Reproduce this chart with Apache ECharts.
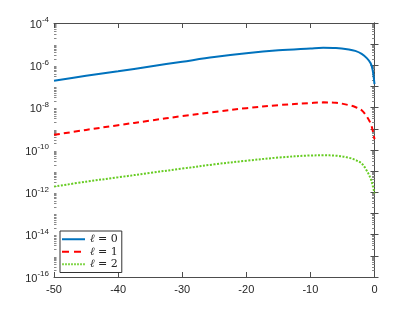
<!DOCTYPE html>
<html><head><meta charset="utf-8">
<script src="https://cdn.jsdelivr.net/npm/echarts@6/dist/echarts.min.js"></script>
<style>html,body{margin:0;padding:0;background:#fff}#c{width:415px;height:312px}</style>
</head><body><div id="c"></div>
<script>
const xs = [-50, -45, -40, -35, -30, -25, -20, -15, -10, -8, -6, -4, -3, -2, -1.2, -0.6, -0.3, 0];
const l0 = [1.86e-7, 3.2e-7, 5.2e-7, 8.9e-7, 1.48e-6, 2.45e-6, 3.7e-6, 5.1e-6, 6.3e-6, 6.8e-6, 6.6e-6, 5.6e-6, 4.8e-6, 3.5e-6, 2.2e-6, 1.26e-6, 6.3e-7, 1.3e-7];
const l1 = [5.2e-10, 8.9e-10, 1.48e-9, 2.45e-9, 4.0e-9, 6.3e-9, 9.5e-9, 1.32e-8, 1.66e-8, 1.78e-8, 1.70e-8, 1.32e-8, 1.07e-8, 7.6e-9, 3.8e-9, 1.78e-9, 8.9e-10, 3.2e-10];
const l2 = [1.86e-12, 3.2e-12, 5.1e-12, 8.3e-12, 1.32e-11, 2.1e-11, 3.1e-11, 4.4e-11, 5.5e-11, 5.6e-11, 5.4e-11, 4.3e-11, 3.4e-11, 2.3e-11, 1.05e-11, 4.5e-12, 2.2e-12, 8.9e-13];
const names = ['ℓ = 0', 'ℓ = 1', 'ℓ = 2'];
const xTicks = [-50, -40, -30, -20, -10, 0];
const yLabelExps = [-16, -14, -12, -10, -8, -6, -4];

const chart = echarts.init(document.getElementById('c'), null, {renderer: 'canvas'});
const axisCol = '#4d4d4d';
const txtCol = '#262626';
function pairs(v) { return xs.map((x, i) => [x, v[i]]); }
function mk(name, vals, color, type) {
  return {name: name, type: 'line', data: pairs(vals), showSymbol: false, symbol: 'none', smooth: 0.35,
    yAxisIndex: 0, xAxisIndex: 0,
    lineStyle: {color: color, width: 2, type: type}, itemStyle: {color: color}};
}
const yBase = {type: 'log', logBase: 10, min: 1e-16, max: 1e-4, interval: 1,
  axisLine: {show: true, lineStyle: {color: axisCol, width: 1}},
  axisTick: {show: true, inside: true, length: 4, lineStyle: {color: axisCol}},
  minorTick: {show: false},
  splitLine: {show: false}, minorSplitLine: {show: false}};
const yMinor = {type: 'log', logBase: 10, min: 1e-16, max: 1e-4, interval: 1, offset: -2.5,
  axisLine: {show: false}, axisTick: {show: false}, axisLabel: {show: false},
  minorTick: {show: true, splitNumber: 9, length: 2.5, lineStyle: {color: '#888'}},
  splitLine: {show: false}, minorSplitLine: {show: false}};
const xBase = {type: 'value', min: -50, max: 0, interval: 10,
  axisLine: {show: true, onZero: false, lineStyle: {color: axisCol, width: 1}},
  axisTick: {show: true, inside: true, length: 5, lineStyle: {color: axisCol}},
  splitLine: {show: false}};
const dotted = (() => { let p = 'path://'; for (let x = 0; x < 23; x += 3) p += 'M' + x + ',0h1.6v2h-1.6z'; return p; })();
chart.setOption({
  animation: false,
  backgroundColor: '#fff',
  grid: {left: 54, right: 40.5, top: 23, bottom: 35, containLabel: false},
  xAxis: [
    Object.assign({}, xBase, {position: 'bottom',
      axisLabel: {show: true, margin: 7, color: txtCol, fontSize: 11, fontFamily: 'Liberation Sans',
        formatter: v => xTicks.indexOf(v) >= 0 ? String(v) : ''}}),
    Object.assign({}, xBase, {position: 'top', axisLabel: {show: false}})
  ],
  yAxis: [
    Object.assign({}, yBase, {position: 'left',
      axisLabel: {show: true, margin: 5, color: txtCol, fontFamily: 'Liberation Sans', showMinLabel: true, showMaxLabel: true,
        formatter: v => { const e = Math.round(Math.log10(v)); return yLabelExps.indexOf(e) >= 0 ? '{b|10}{s|' + e + '}' : ''; },
        rich: {b: {fontSize: 11, color: txtCol, fontFamily: 'Liberation Sans', verticalAlign: 'bottom'},
               s: {fontSize: 8, color: txtCol, fontFamily: 'Liberation Sans', verticalAlign: 'bottom', padding: [0, 0, 6, 0]}}}}),
    Object.assign({}, yBase, {position: 'right', axisLabel: {show: false}}),
    Object.assign({}, yMinor, {position: 'left'}),
    Object.assign({}, yMinor, {position: 'right'})
  ],
  legend: {left: 60, top: 231, orient: 'vertical', itemWidth: 23, itemHeight: 2, itemGap: 0,
    padding: [2, 4, 2, 2], borderColor: '#333', borderWidth: 1, backgroundColor: '#fff',
    data: [
      {name: names[0], icon: 'path://M0,0h23v2h-23z'},
      {name: names[1], icon: 'path://M0,0h7v2h-7z M12,0h7v2h-7z M23,0h0v2h0z'},
      {name: names[2], icon: dotted}
    ],
    formatter: n => '{i|ℓ}{t|' + n.slice(1) + '}',
    textStyle: {color: txtCol, fontSize: 11, fontFamily: 'DejaVu Serif', lineHeight: 12.5,
      rich: {i: {fontStyle: 'italic', fontSize: 11, fontFamily: 'DejaVu Serif', color: txtCol},
             t: {fontSize: 11, fontFamily: 'DejaVu Serif', color: txtCol}}}},
  series: [
    mk(names[0], l0, '#0072BD', 'solid'),
    mk(names[1], l1, '#FF0000', [6, 4]),
    mk(names[2], l2, '#66CC22', [2, 1.5])
  ]
});
</script></body></html>
